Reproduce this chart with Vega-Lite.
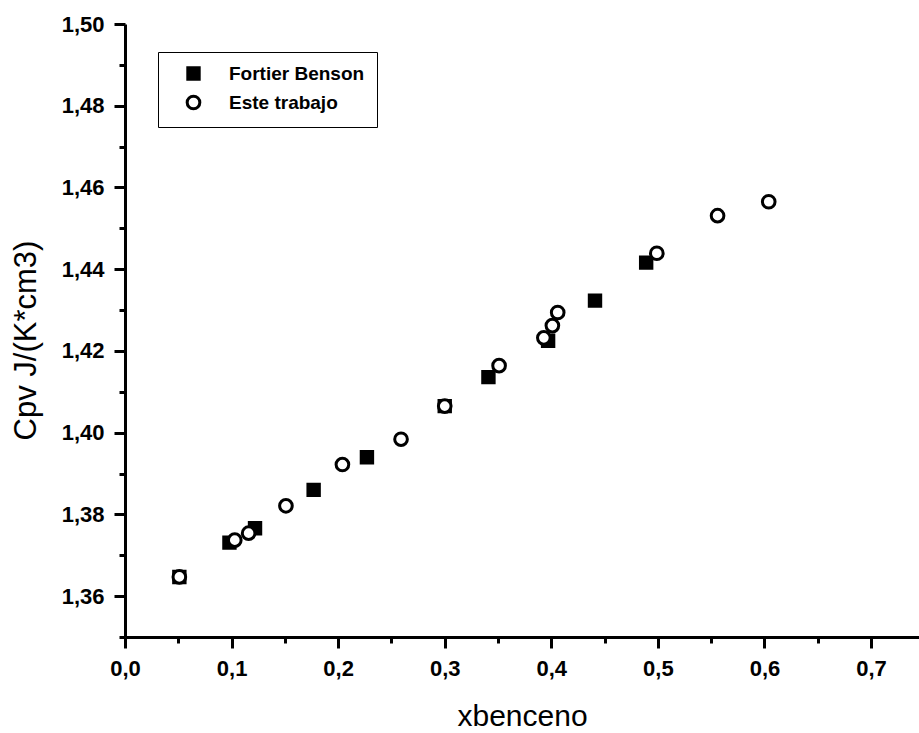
{
  "$schema": "https://vega.github.io/schema/vega-lite/v6.json",
  "width": 794,
  "height": 613,
  "autosize": {"type": "none"},
  "padding": {"left": 125, "top": 24, "right": 0, "bottom": 96},
  "background": "white",
  "config": {"view": {"stroke": null}},
  "datasets": {
    "pts": [
      {"serie": "Fortier Benson", "x": 0.051, "y": 1.3647},
      {"serie": "Fortier Benson", "x": 0.098, "y": 1.3731},
      {"serie": "Fortier Benson", "x": 0.122, "y": 1.3766},
      {"serie": "Fortier Benson", "x": 0.177, "y": 1.386},
      {"serie": "Fortier Benson", "x": 0.227, "y": 1.394},
      {"serie": "Fortier Benson", "x": 0.3, "y": 1.4065},
      {"serie": "Fortier Benson", "x": 0.341, "y": 1.4136},
      {"serie": "Fortier Benson", "x": 0.397, "y": 1.4225},
      {"serie": "Fortier Benson", "x": 0.441, "y": 1.4323},
      {"serie": "Fortier Benson", "x": 0.489, "y": 1.4416},
      {"serie": "Este trabajo", "x": 0.051, "y": 1.3647},
      {"serie": "Este trabajo", "x": 0.103, "y": 1.3737},
      {"serie": "Este trabajo", "x": 0.116, "y": 1.3754},
      {"serie": "Este trabajo", "x": 0.151, "y": 1.3821},
      {"serie": "Este trabajo", "x": 0.204, "y": 1.3922},
      {"serie": "Este trabajo", "x": 0.259, "y": 1.3984},
      {"serie": "Este trabajo", "x": 0.3, "y": 1.4065},
      {"serie": "Este trabajo", "x": 0.351, "y": 1.4164},
      {"serie": "Este trabajo", "x": 0.393, "y": 1.4232},
      {"serie": "Este trabajo", "x": 0.401, "y": 1.4262},
      {"serie": "Este trabajo", "x": 0.406, "y": 1.4294},
      {"serie": "Este trabajo", "x": 0.499, "y": 1.4439},
      {"serie": "Este trabajo", "x": 0.556, "y": 1.4531},
      {"serie": "Este trabajo", "x": 0.604, "y": 1.4565}
    ]
  },
  "layer": [
    {
      "mark": {"type": "rule", "color": "black", "strokeWidth": 3},
      "encoding": {"y": {"datum": 1.5, "type": "quantitative", "scale": {"domain": [1.35, 1.5]}}}
    },
    {
      "data": {"name": "pts"},
      "mark": {"type": "point", "filled": true, "stroke": "black", "strokeWidth": 3, "strokeOpacity": 1, "opacity": 1},
      "encoding": {
        "x": {
          "field": "x", "type": "quantitative",
          "scale": {"domain": [0, 0.745], "nice": false, "zero": false},
          "axis": {
            "title": "xbenceno",
            "values": [0, 0.05, 0.1, 0.15, 0.2, 0.25, 0.3, 0.35, 0.4, 0.45, 0.5, 0.55, 0.6, 0.65, 0.7],
            "labelExpr": "round(datum.value*100) % 10 == 0 ? replace(format(datum.value,'.1f'),'.',',') : ''",
            "domainColor": "black", "domainWidth": 3,
            "tickColor": "black", "tickWidth": 3,
            "tickSize": {"condition": {"test": "round(datum.value*100) % 10 == 0", "value": 11}, "value": 6},
            "labelFont": "Liberation Sans", "labelFontWeight": "bold", "labelFontSize": 22, "labelColor": "black",
            "labelPadding": 10, "labelFlush": false,
            "grid": false,
            "titleFont": "Liberation Sans", "titleFontWeight": "normal", "titleFontSize": 30, "titleColor": "black",
            "titleBaseline": "alphabetic", "titleY": 88, "titleX": 397
          }
        },
        "y": {
          "field": "y", "type": "quantitative",
          "scale": {"domain": [1.35, 1.5], "nice": false, "zero": false},
          "axis": {
            "title": "Cpv J/(K*cm3)",
            "values": [1.35, 1.36, 1.37, 1.38, 1.39, 1.4, 1.41, 1.42, 1.43, 1.44, 1.45, 1.46, 1.47, 1.48, 1.49, 1.5],
            "labelExpr": "round(datum.value*100) % 2 == 0 ? replace(format(datum.value,'.2f'),'.',',') : ''",
            "domainColor": "black", "domainWidth": 3,
            "tickColor": "black", "tickWidth": 3,
            "tickSize": {"condition": {"test": "round(datum.value*100) % 2 == 0", "value": 11}, "value": 6},
            "labelFont": "Liberation Sans", "labelFontWeight": "bold", "labelFontSize": 22, "labelColor": "black",
            "labelPadding": 10, "labelFlush": false,
            "grid": false,
            "titleFont": "Liberation Sans", "titleFontWeight": "normal", "titleFontSize": 31, "titleColor": "black",
            "titleAngle": -90, "titleBaseline": "alphabetic", "titleAlign": "center",
            "titleX": -90, "titleY": 316
          }
        },
        "shape": {
          "field": "serie", "type": "nominal",
          "scale": {"domain": ["Fortier Benson", "Este trabajo"], "range": ["square", "circle"]},
          "legend": {
            "title": null, "orient": "none", "legendX": 33, "legendY": 28,
            "strokeColor": "black", "padding": 12,
            "symbolOffset": 14, "labelOffset": 26, "rowPadding": 4,
            "symbolStrokeColor": "black", "symbolStrokeWidth": 3,
            "labelFontWeight": "bold", "labelFontSize": 19, "labelColor": "black",
            "labelLimit": 300,
            "encode": {
              "legend": {"update": {"strokeWidth": {"value": 2}}},
              "labels": {
                "enter": {
                  "font": {"signal": "datum.index == 1 ? 'Liberation Serif' : 'Liberation Sans'"},
                  "fontSize": {"signal": "datum.index == 1 ? 21 : 19"}
                },
                "update": {
                  "font": {"signal": "datum.index == 1 ? 'Liberation Serif' : 'Liberation Sans'"},
                  "fontSize": {"signal": "datum.index == 1 ? 21 : 19"}
                }
              }
            }
          }
        },
        "fill": {
          "field": "serie", "type": "nominal",
          "scale": {"domain": ["Fortier Benson", "Este trabajo"], "range": ["black", "white"]}
        },
        "size": {
          "field": "serie", "type": "nominal",
          "scale": {"domain": ["Fortier Benson", "Este trabajo"], "range": [130, 160]}
        }
      }
    }
  ]
}
